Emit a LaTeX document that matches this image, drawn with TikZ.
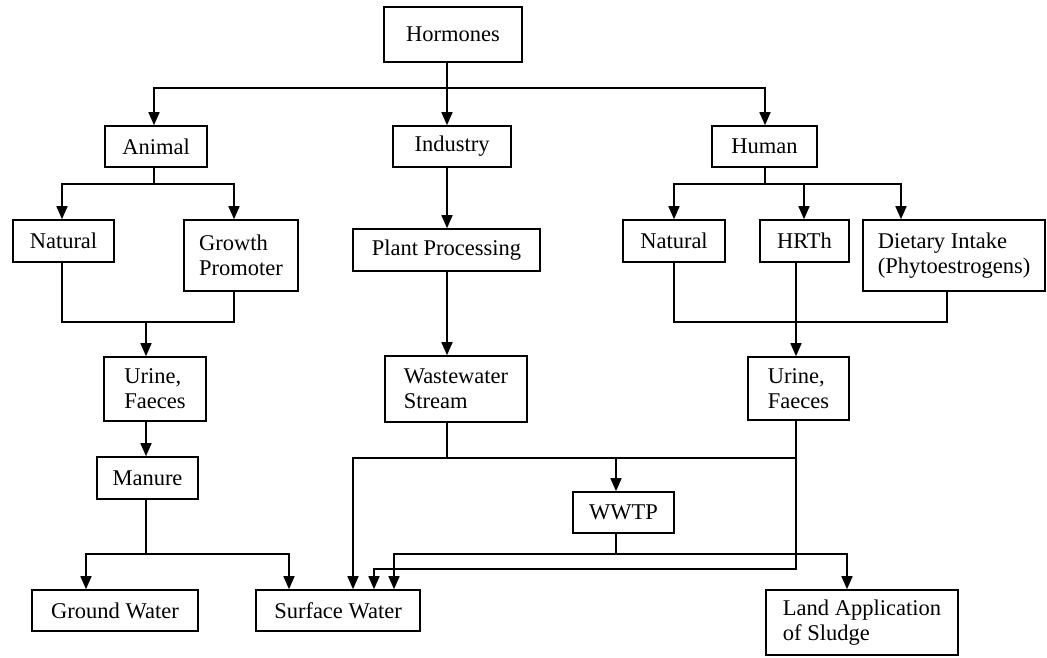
\documentclass[tikz,border=0pt]{standalone}
\usepackage{fontspec}
\setmainfont{Liberation Serif}
\usetikzlibrary{arrows.meta}
\begin{document}
\begin{tikzpicture}[x=1pt,y=-1pt,
  box/.style={draw=black, line width=1.6pt, inner sep=0pt, align=center,
    font=\fontsize{22.5}{25}\selectfont},
  lbox/.style={box, align=left},
  ln/.style={draw=black, line width=1.6pt, line cap=rect, line join=miter},
  arr/.style={draw=black, line width=1.6pt, -{Triangle[length=13pt,width=11pt]}}]
\useasboundingbox (0,0) rectangle (1047,657);
% boxes
\node[box, minimum width=138pt, minimum height=55pt] (horm) at (453,34.5) {Hormones};
\node[box, minimum width=102pt, minimum height=41pt] (animal) at (156,146.5) {Animal};
\node[box, minimum width=118pt, minimum height=41pt] (industry) at (452,146.5) {Industry};
\node[box, minimum width=105pt, minimum height=41pt] (human) at (764.5,146.5) {Human};
\node[box, minimum width=101pt, minimum height=42pt] (natL) at (63.5,241) {Natural};
\node[lbox, minimum width=114pt, minimum height=71pt] (growth) at (241,255.5) {Growth\\Promoter};
\node[lbox, minimum width=102pt, minimum height=64pt] (urineL) at (155,389) {Urine,\\Faeces};
\node[box, minimum width=101pt, minimum height=42pt] (manure) at (147.5,478) {Manure};
\node[box, minimum width=166pt, minimum height=41pt] (ground) at (115,610.5) {Ground Water};
\node[box, minimum width=164pt, minimum height=41pt] (surface) at (338,610.5) {Surface Water};
\node[box, minimum width=187pt, minimum height=42pt] (plant) at (446.5,250) {Plant Processing};
\node[lbox, minimum width=142pt, minimum height=66pt] (waste) at (456,389) {Wastewater\\Stream};
\node[box, minimum width=102pt, minimum height=42pt] (natR) at (674,241) {Natural};
\node[box, minimum width=89pt, minimum height=42pt] (hrth) at (804.5,241) {HRTh};
\node[lbox, minimum width=182pt, minimum height=71pt] (diet) at (954,255.5) {Dietary Intake\\(Phytoestrogens)};
\node[lbox, minimum width=101pt, minimum height=63pt] (urineR) at (798.5,388.5) {Urine,\\Faeces};
\node[box, minimum width=101pt, minimum height=41pt] (wwtp) at (623.5,512.5) {WWTP};
\node[lbox, minimum width=192pt, minimum height=65pt] (land) at (862,622.5) {Land Application\\of Sludge};
% columns and rows
\coordinate (cI) at (447,0);
\coordinate (cA) at (154,0);
\coordinate (cH) at (765,0);
\coordinate (cNL) at (62,0);
\coordinate (cG) at (234,0);
\coordinate (cUL) at (146,0);
\coordinate (cGW) at (86,0);
\coordinate (cSW1) at (289,0);
\coordinate (cSW2) at (353,0);
\coordinate (cSW3) at (374,0);
\coordinate (cSW4) at (394,0);
\coordinate (cW) at (616,0);
\coordinate (cNR) at (674,0);
\coordinate (cHR) at (804,0);
\coordinate (cHRd) at (796,0);
\coordinate (cD) at (901,0);
\coordinate (cDd) at (947,0);
\coordinate (cL) at (847,0);
\coordinate (r1) at (0,88);
\coordinate (r2) at (0,184);
\coordinate (r3) at (0,322);
\coordinate (r4) at (0,554);
\coordinate (r5) at (0,458);
\coordinate (r6) at (0,569);
% Hormones
\draw[ln] (horm.south -| cI) -- (cI |- r1);
\draw[ln] (cA |- r1) -- (cH |- r1);
\draw[arr] (cA |- r1) -- (animal.north -| cA);
\draw[arr] (cI |- r1) -- (industry.north -| cI);
\draw[arr] (cH |- r1) -- (human.north -| cH);
% Animal
\draw[ln] (animal.south -| cA) -- (cA |- r2);
\draw[ln] (cNL |- r2) -- (cG |- r2);
\draw[arr] (cNL |- r2) -- (natL.north -| cNL);
\draw[arr] (cG |- r2) -- (growth.north -| cG);
\draw[ln] (natL.south -| cNL) -- (cNL |- r3) -- (cG |- r3) -- (growth.south -| cG);
\draw[arr] (cUL |- r3) -- (urineL.north -| cUL);
\draw[arr] (urineL.south -| cUL) -- (manure.north -| cUL);
\draw[ln] (manure.south -| cUL) -- (cUL |- r4);
\draw[ln] (cGW |- r4) -- (cSW1 |- r4);
\draw[arr] (cGW |- r4) -- (ground.north -| cGW);
\draw[arr] (cSW1 |- r4) -- (surface.north -| cSW1);
% Industry
\draw[arr] (industry.south -| cI) -- (plant.north -| cI);
\draw[arr] (plant.south -| cI) -- (waste.north -| cI);
\draw[ln] (waste.south -| cI) -- (cI |- r5);
\draw[ln] (cSW2 |- r5) -- (cHRd |- r5);
\draw[arr] (cSW2 |- r5) -- (surface.north -| cSW2);
\draw[arr] (cW |- r5) -- (wwtp.north -| cW);
% Human
\draw[ln] (human.south -| cH) -- (cH |- r2);
\draw[ln] (cNR |- r2) -- (cD |- r2);
\draw[arr] (cNR |- r2) -- (natR.north -| cNR);
\draw[arr] (cHR |- r2) -- (hrth.north -| cHR);
\draw[arr] (cD |- r2) -- (diet.north -| cD);
\draw[ln] (natR.south -| cNR) -- (cNR |- r3) -- (cDd |- r3) -- (diet.south -| cDd);
\draw[arr] (hrth.south -| cHRd) -- (urineR.north -| cHRd);
\draw[ln] (urineR.south -| cHRd) -- (cHRd |- r6) -- (cSW3 |- r6);
\draw[arr] (cSW3 |- r6) -- (surface.north -| cSW3);
% WWTP
\draw[ln] (wwtp.south -| cW) -- (cW |- r4);
\draw[ln] (cSW4 |- r4) -- (cL |- r4);
\draw[arr] (cSW4 |- r4) -- (surface.north -| cSW4);
\draw[arr] (cL |- r4) -- (land.north -| cL);
\end{tikzpicture}
\end{document}
